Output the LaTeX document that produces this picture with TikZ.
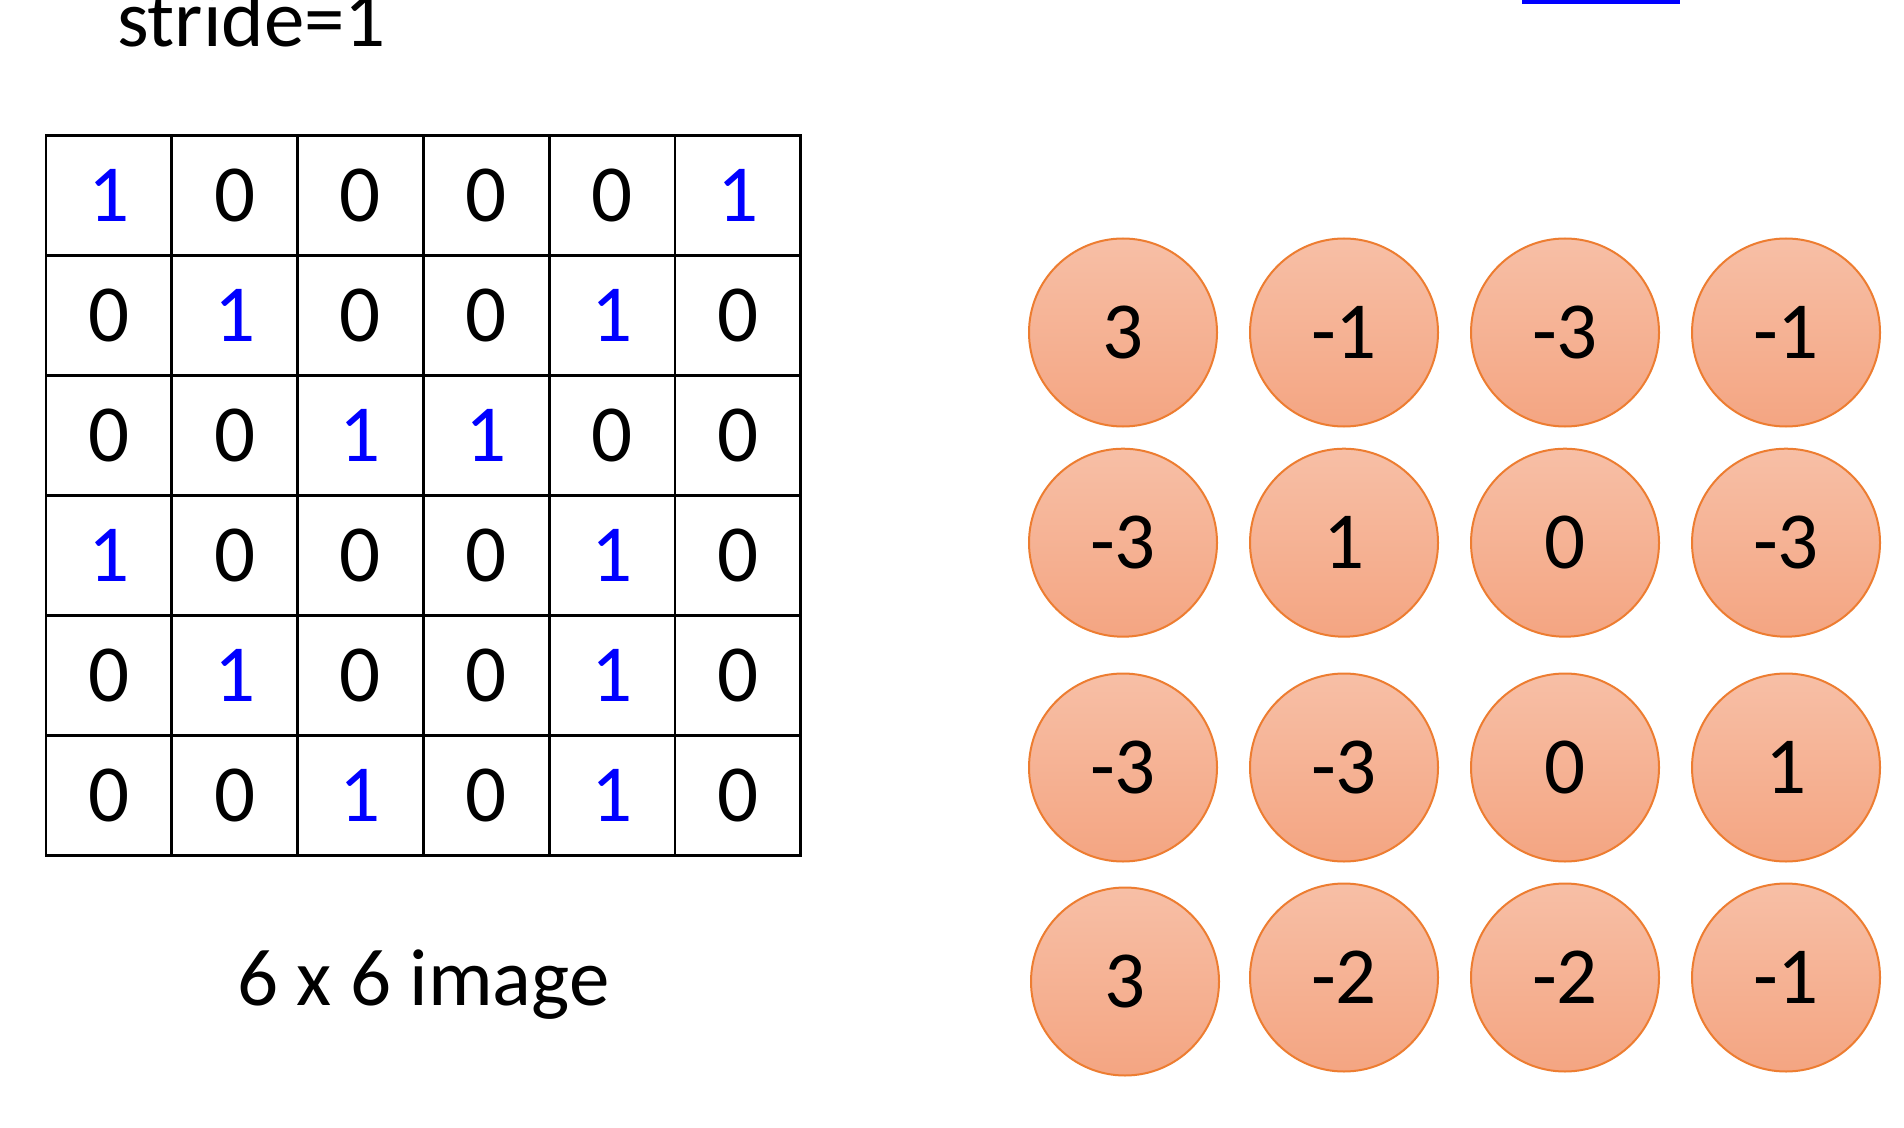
\documentclass[tikz,border=0pt]{standalone}
\usepackage{fontspec}
\setmainfont{Carlito}
\definecolor{cellblue}{RGB}{0,0,255}
\definecolor{ringorange}{RGB}{237,125,49}
\definecolor{fillhi}{RGB}{247,191,166}
\definecolor{filllo}{RGB}{244,165,130}
\tikzset{
  bigfont/.style={font=\fontsize{40.5pt}{48pt}\selectfont},
  cellbox/.style={draw=black, line width=1.35pt, rectangle, minimum width=62.9pt, minimum height=60pt, inner sep=0pt, outer sep=0pt, bigfont},
  ball/.style={circle, draw=ringorange, line width=1pt, top color=fillhi, bottom color=filllo, minimum size=94pt, inner sep=0pt, outer sep=0pt, bigfont},
  label/.style={inner sep=0pt, outer sep=0pt, bigfont}
}
\begin{document}
\begin{tikzpicture}[x=0.5pt, y=-0.5pt]
\useasboundingbox (0,0) rectangle (1904,1128);
\fill[white] (0,0) rectangle (1904,1128);
% title
\node[label, anchor=base west] (title) at (117,46.7) {stride=1};
% blue bar at top right
\fill[cellblue] (1522,0) rectangle (1680,4);
% grid
\foreach \row/\vals in {0/{1,0,0,0,0,1},1/{0,1,0,0,1,0},2/{0,0,1,1,0,0},3/{1,0,0,0,1,0},4/{0,1,0,0,1,0},5/{0,0,1,0,1,0}}{
  \foreach \v [count=\col from 0] in \vals {
    \ifnum\v=1
      \node[cellbox, text=cellblue] (c\row\col) at ({46+125.8*(\col+0.5)},{135.7+119.93*(\row+0.5)}) {\v};
    \else
      \node[cellbox, text=black] (c\row\col) at ({46+125.8*(\col+0.5)},{135.7+119.93*(\row+0.5)}) {\v};
    \fi
  }
}
\node[label, anchor=base] (caption) at (423.5,1005) {6 x 6 image};
% feature map circles
\node[ball] (b11) at (1123,332.5) {3};
\node[ball] (b12) at (1344,332.5) {-1};
\node[ball] (b13) at (1565,332.5) {-3};
\node[ball] (b14) at (1786,332.5) {-1};
\node[ball] (b21) at (1123,542.7) {-3};
\node[ball] (b22) at (1344,542.7) {1};
\node[ball] (b23) at (1565,542.7) {0};
\node[ball] (b24) at (1786,542.7) {-3};
\node[ball] (b31) at (1123,767.5) {-3};
\node[ball] (b32) at (1344,767.5) {-3};
\node[ball] (b33) at (1565,767.5) {0};
\node[ball] (b34) at (1786,767.5) {1};
\node[ball] (b41) at (1125,981.5) {3};
\node[ball] (b42) at (1344,977.5) {-2};
\node[ball] (b43) at (1565,977.5) {-2};
\node[ball] (b44) at (1786,977.5) {-1};
\end{tikzpicture}
\end{document}
